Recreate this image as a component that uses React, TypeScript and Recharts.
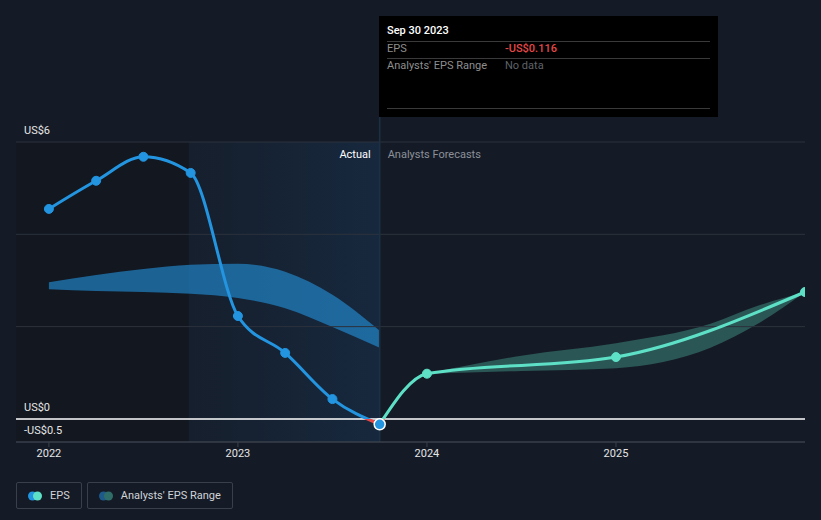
import React from 'react';
import {
  ComposedChart, Line, Area, XAxis, YAxis, ReferenceLine, ReferenceArea, Tooltip,
} from 'recharts';

// ---- data ----
const times = [2022.0, 2022.25, 2022.5, 2022.75, 2023.0, 2023.25, 2023.5, 2023.75, 2024.0, 2024.5, 2025.0, 2025.5, 2025.75, 2026.0];
const dateLabels = ['Dec 31 2021', 'Mar 31 2022', 'Jun 30 2022', 'Sep 30 2022', 'Dec 31 2022', 'Mar 31 2023', 'Jun 30 2023', 'Sep 30 2023', 'Dec 31 2023', 'Jun 30 2024', 'Dec 31 2024', 'Jun 30 2025', 'Sep 30 2025', 'Dec 31 2025'];
const epsActual = [4.55, 5.16, 5.68, 5.33, 2.23, 1.43, 0.43, -0.116, null, null, null, null, null, null];
const epsForecast = [null, null, null, null, null, null, null, -0.116, 0.98, null, 1.34, null, null, 2.75];
const pastLow = [2.81, 2.77, 2.75, 2.71, 2.62, 2.40, 1.99, 1.54, null, null, null, null, null, null];
const pastHigh = [2.96, 3.12, 3.25, 3.34, 3.36, 3.19, 2.69, 1.91, null, null, null, null, null, null];
const rangeLow = [null, null, null, null, null, null, null, null, 0.98, 1.04, 1.10, 1.54, 2.06, 2.75];
const rangeHigh = [null, null, null, null, null, null, null, null, 0.98, 1.37, 1.64, 2.06, 2.45, 2.75];
const xTicks = [2022, 2023, 2024, 2025];
const yTicks = [-0.5, 0, 6];
const gridValues = [2, 4, 6];
const actualStart = 2022.74;
const actualEnd = 2023.75;
const selectedIndex = 7;

const data = times.map((t, i) => ({
  t,
  label: dateLabels[i],
  eps: epsActual[i],
  fc: epsForecast[i],
  past: pastLow[i] != null ? [pastLow[i], pastHigh[i]] : null,
  range: rangeLow[i] != null ? [rangeLow[i], rangeHigh[i]] : null,
}));

const Y_MIN = -0.5;
const Y_MAX = 6;
const X_MIN = 2021.826;
const X_MAX = 2026.0;

const BLUE = '#2394df';
const TEAL = '#5de0c6';
const RED = '#e64848';
const BG = '#151b26';
const FONT = 'Roboto, "Noto Sans", sans-serif';
const FS = 11;

const fmtMoney = (v: number) => (v < 0 ? `-US$${Math.abs(v)}` : `US$${v}`);

const renderYTick = (p: any) => (
  <text key={`yt-${p.payload.value}`} x={24} y={p.y - 12} dy="0.35em" fill="#e6e6e6" fontSize={FS} fontFamily={FONT} textAnchor="start">
    {fmtMoney(p.payload.value)}
  </text>
);

const ActualLabel = (p: any) => {
  const vb = p.viewBox || {};
  const xr = (vb.x || 0) + (vb.width || 0);
  const y = (vb.y || 0) + 12;
  return (
    <g>
      <text x={xr - 9} y={y} dy="0.35em" textAnchor="end" fill="#ffffff" fontSize={FS} fontFamily={FONT}>Actual</text>
      <text x={xr + 8} y={y} dy="0.35em" textAnchor="start" fill="#8b9099" fontSize={FS} fontFamily={FONT}>Analysts Forecasts</text>
    </g>
  );
};

const TipContent = (p: any) => {
  const payload = p.payload || [];
  if (!payload.length) return null;
  const row = payload[0].payload;
  const epsVal = row.eps != null ? row.eps : row.fc;
  const rangeTxt = row.range ? `${fmtMoney(row.range[0])} - ${fmtMoney(row.range[1])}` : 'No data';
  const line = (top: number) => (
    <div style={{ position: 'absolute', left: 8, right: 8, top, height: 1, background: '#3a3a3a' }} />
  );
  return (
    <div style={{ position: 'relative', width: 339, height: 101, background: '#000', fontFamily: FONT, fontSize: FS }}>
      <div style={{ position: 'absolute', left: 8, top: 7, lineHeight: '16px', color: '#fff', fontWeight: 500 }}>{row.label}</div>
      {line(25)}
      <div style={{ position: 'absolute', left: 8, top: 25, lineHeight: '16px', color: '#8e8e8e' }}>EPS</div>
      <div style={{ position: 'absolute', left: 126, top: 25, lineHeight: '16px', color: epsVal < 0 ? RED : TEAL, fontWeight: 500 }}>{fmtMoney(epsVal)}</div>
      {line(42)}
      <div style={{ position: 'absolute', left: 8, top: 42, lineHeight: '16px', color: '#8e8e8e' }}>Analysts' EPS Range</div>
      <div style={{ position: 'absolute', left: 126, top: 42, lineHeight: '16px', color: '#5f6368' }}>{rangeTxt}</div>
      {line(92)}
    </div>
  );
};

const fcDot = (p: any) => {
  if (p.index === selectedIndex || p.value == null || p.cy == null) return <g key={`fd-${p.index}`} />;
  return <circle key={`fd-${p.index}`} cx={p.cx} cy={p.cy} r={4.5} fill={TEAL} stroke={TEAL} />;
};

const boxStyle: React.CSSProperties = {
  height: 27, boxSizing: 'border-box', border: '1px solid #3a404b', borderRadius: 2,
  display: 'flex', alignItems: 'center', padding: '0 11px 0 11px', color: '#d0d3d8',
};

const LegendBox = () => (
  <div style={{ position: 'absolute', left: 16, top: 482, display: 'flex', gap: 5, fontFamily: FONT, fontSize: FS }}>
    <div style={boxStyle}>
      <svg width={14} height={10} style={{ marginRight: 8 }}>
        <circle cx={4.5} cy={5} r={4.5} fill={BLUE} />
        <circle cx={9.5} cy={5} r={4.5} fill={TEAL} />
      </svg>
      EPS
    </div>
    <div style={boxStyle}>
      <svg width={14} height={10} style={{ marginRight: 8 }}>
        <circle cx={4.5} cy={5} r={4.5} fill="#1d5a8a" />
        <circle cx={9.5} cy={5} r={4.5} fill="#2f6e68" />
      </svg>
      Analysts' EPS Range
    </div>
  </div>
);

export default function App() {
  const zeroOff = (Y_MAX - 0) / (Y_MAX - Y_MIN);
  return (
    <div style={{ position: 'fixed', left: 0, top: 0, width: 821, height: 520, background: BG, overflow: 'hidden', fontFamily: FONT }}>
      <ComposedChart
        width={805}
        height={520}
        data={data}
        margin={{ top: 142, right: 0, bottom: 48, left: 15 }}
      >
        <defs>
          <linearGradient id="actualGrad" x1="0" y1="0" x2="1" y2="0">
            <stop offset="0%" stopColor="#1a3a5c" stopOpacity={0.25} />
            <stop offset="100%" stopColor="#1a3f66" stopOpacity={0.75} />
          </linearGradient>
          <linearGradient id="blueStroke" x1="0" y1="142" x2="0" y2="442" gradientUnits="userSpaceOnUse">
            <stop offset={zeroOff} stopColor={BLUE} />
            <stop offset={zeroOff} stopColor={RED} />
          </linearGradient>
          <linearGradient id="tealStroke" x1="0" y1="142" x2="0" y2="442" gradientUnits="userSpaceOnUse">
            <stop offset={zeroOff} stopColor={TEAL} />
            <stop offset={zeroOff} stopColor={RED} />
          </linearGradient>
        </defs>
        <XAxis
          type="number"
          dataKey="t"
          domain={[X_MIN, X_MAX]}
          allowDataOverflow
          ticks={xTicks}
          tickFormatter={(v: number) => String(v)}
          height={30}
          tick={{ fill: '#e6e6e6', fontSize: FS, fontFamily: FONT }}
          tickSize={5}
          tickLine={{ stroke: '#3a404b' }}
          axisLine={{ stroke: '#3a404b', strokeWidth: 1.5 }}
        />
        <YAxis
          type="number"
          domain={[Y_MIN, Y_MAX]}
          ticks={yTicks}
          interval={0}
          width={1}
          axisLine={false}
          tickLine={false}
          tick={renderYTick}
        />
        <ReferenceArea x1={X_MIN} x2={actualStart} y1={Y_MIN} y2={Y_MAX} fill="#000000" fillOpacity={0.14} stroke="none" />
        <ReferenceArea x1={actualStart} x2={actualEnd} y1={Y_MIN} y2={Y_MAX} fill="url(#actualGrad)" stroke="none" label={<ActualLabel />} />
        {gridValues.map((g) => (
          <ReferenceLine key={g} y={g} stroke="#2c323c" strokeWidth={1} />
        ))}
        <ReferenceLine
          segment={[{ x: actualEnd, y: Y_MIN }, { x: actualEnd, y: 6.54 }]}
          ifOverflow="visible"
          stroke="#1c3044"
          strokeWidth={1.5}
        />
        <Area
          type="monotone"
          dataKey="past"
          stroke="none"
          fill={BLUE}
          fillOpacity={0.6}
          isAnimationActive={false}
          activeDot={false}
          dot={false}
        />
        <Area
          type="monotone"
          dataKey="range"
          stroke="none"
          fill={TEAL}
          fillOpacity={0.3}
          isAnimationActive={false}
          activeDot={false}
          dot={false}
        />
        <ReferenceLine y={0} stroke="#ffffff" strokeWidth={1.5} />
        <Line
          type="monotone"
          dataKey="fc"
          stroke="url(#tealStroke)"
          strokeWidth={3}
          connectNulls
          dot={fcDot}
          activeDot={false}
          isAnimationActive={false}
        />
        <Line
          type="monotone"
          dataKey="eps"
          stroke="url(#blueStroke)"
          strokeWidth={3}
          dot={{ r: 4.5, fill: BLUE, stroke: BLUE, strokeWidth: 1 }}
          activeDot={{ r: 5.5, fill: BLUE, stroke: '#ffffff', strokeWidth: 1.5 }}
          isAnimationActive={false}
        />
        <Tooltip
          content={<TipContent />}
          defaultIndex={selectedIndex}
          active
          position={{ x: 379, y: 16 }}
          cursor={false}
          isAnimationActive={false}
          wrapperStyle={{ outline: 'none' }}
        />
      </ComposedChart>
      <LegendBox />
    </div>
  );
}
